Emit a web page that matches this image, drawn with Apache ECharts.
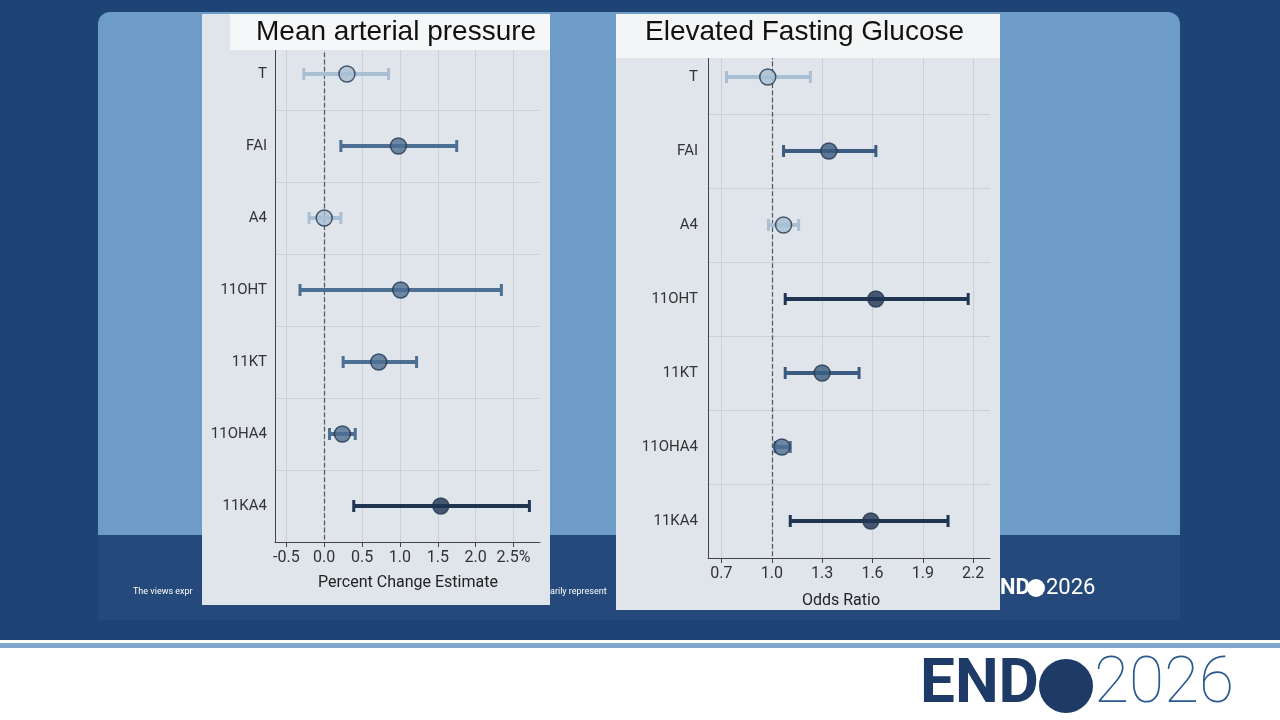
<!DOCTYPE html>
<html><head><meta charset="utf-8">
<script src="https://cdn.jsdelivr.net/npm/echarts@6/dist/echarts.min.js"></script>
<style>html,body{margin:0;padding:0;}#c{width:1280px;height:720px;}</style>
</head><body><div id="c"></div>
<script>
const categories = ['T','FAI','A4','11OHT','11KT','11OHA4','11KA4'];
const mapEst  = [0.30, 0.98, 0.00, 1.01, 0.72, 0.24, 1.54];
const mapLow  = [-0.27, 0.22, -0.20, -0.32, 0.25, 0.07, 0.39];
const mapHigh = [0.85, 1.75, 0.22, 2.34, 1.22, 0.41, 2.71];
const orEst  = [0.976, 1.34, 1.07, 1.62, 1.30, 1.06, 1.59];
const orLow  = [0.73, 1.07, 0.98, 1.08, 1.08, 1.02, 1.11];
const orHigh = [1.23, 1.62, 1.16, 2.17, 1.52, 1.11, 2.05];
const mapTicks = [-0.5, 0, 0.5, 1, 1.5, 2, 2.5];
const orTicks = [0.7, 1.0, 1.3, 1.6, 1.9, 2.2];
const colorsLeft = ['#a9bfd3','#4d6f92','#a9bfd3','#4d6f92','#4d6f92','#4d6f92','#1f3552'];
const colorsRight = ['#a9bfd3','#3b5c80','#a9bfd3','#1f3552','#3b5c80','#4d6f92','#1f3552'];

function ciSeries(idx, low, high, colors){
  return {type:'custom', xAxisIndex:idx, yAxisIndex:idx, z:3,
    data: categories.map((c,i)=>[low[i],high[i],i]),
    renderItem:(params, api)=>{
      const i = api.value(2);
      const a = api.coord([api.value(0), i]);
      const b = api.coord([api.value(1), i]);
      const st = {stroke:colors[i], lineWidth:4};
      return {type:'group', children:[
        {type:'line', shape:{x1:a[0],y1:a[1],x2:b[0],y2:b[1]}, style:st},
        {type:'line', shape:{x1:a[0],y1:a[1]-6,x2:a[0],y2:a[1]+6}, style:{stroke:colors[i],lineWidth:3}},
        {type:'line', shape:{x1:b[0],y1:b[1]-6,x2:b[0],y2:b[1]+6}, style:{stroke:colors[i],lineWidth:3}}
      ]};
    }};
}
function ptSeries(idx, est, colors, ref){
  return {type:'scatter', xAxisIndex:idx, yAxisIndex:idx, z:4, symbolSize:16,
    data: categories.map((c,i)=>({value:[est[i], c], itemStyle:{color:colors[i], borderColor:'#22364f', borderWidth:1.5}})),
    markLine:{silent:true, symbol:'none', label:{show:false}, z:2,
      lineStyle:{type:'dashed', color:'#555', width:1.2}, data:[{xAxis:ref}]}};
}
const axLabel = {color:'#333', fontSize:16, fontFamily:'Roboto'};
const opt = {
  animation:false,
  graphic:[
    {type:'rect', z:-20, shape:{x:0,y:0,width:1280,height:640}, style:{fill:'#1d4474'}},
    {type:'rect', z:-20, shape:{x:0,y:640,width:1280,height:80}, style:{fill:'#ffffff'}},
    {type:'rect', z:-20, shape:{x:0,y:643,width:1280,height:5}, style:{fill:'#7fa6cc'}},
    {type:'rect', z:-19, shape:{x:98,y:12,width:1082,height:608,r:12}, style:{fill:'#6d9cc7'}},
    {type:'rect', z:-18, shape:{x:98,y:535,width:1082,height:85}, style:{fill:'#24497a'}},
    {type:'text', z:-17, style:{x:133,y:592,text:'The views expr',fill:'#fff',fontSize:9,verticalAlign:'middle',fontFamily:'Roboto'}},
    {type:'text', z:-17, style:{x:550,y:592,text:'arily represent',fill:'#fff',fontSize:9,verticalAlign:'middle',fontFamily:'Roboto'}},
    {type:'text', z:-17, style:{x:1000,y:588,text:'ND',fill:'#fff',fontSize:22,fontWeight:'bold',verticalAlign:'middle',fontFamily:'Roboto'}},
    {type:'circle', z:-17, shape:{cx:1036,cy:588,r:9}, style:{fill:'#fff'}},
    {type:'text', z:-17, style:{x:1046,y:588,text:'2026',fill:'#fff',fontSize:22,verticalAlign:'middle',fontFamily:'Roboto'}},
    {type:'rect', z:-10, shape:{x:202,y:14,width:348,height:591}, style:{fill:'#dfe5ea'}},
    {type:'rect', z:10, shape:{x:230,y:14,width:320,height:36}, style:{fill:'#f6f7f8'}},
    {type:'text', z:11, style:{x:256,y:32,text:'Mean arterial pressure',fill:'#111',fontSize:28,verticalAlign:'middle',fontFamily:'Liberation Sans'}},
    {type:'text', z:-8, style:{x:408,y:583,text:'Percent Change Estimate',fill:'#222',fontSize:16,align:'center',verticalAlign:'middle',fontFamily:'Roboto'}},
    {type:'rect', z:-10, shape:{x:616,y:14,width:384,height:596}, style:{fill:'#dfe5ea'}},
    {type:'rect', z:10, shape:{x:616,y:14,width:384,height:44}, style:{fill:'#f4f5f6'}},
    {type:'text', z:11, style:{x:645,y:32,text:'Elevated Fasting Glucose',fill:'#111',fontSize:28,verticalAlign:'middle',fontFamily:'Liberation Sans'}},
    {type:'text', z:-8, style:{x:841,y:601,text:'Odds Ratio',fill:'#222',fontSize:16,align:'center',verticalAlign:'middle',fontFamily:'Roboto'}},
    {type:'text', z:-8, style:{x:920,y:686,text:'END',fill:'#1d3b66',fontSize:62,fontWeight:'bold',verticalAlign:'middle',fontFamily:'Roboto'}},
    {type:'circle', z:-8, shape:{cx:1066,cy:686,r:27}, style:{fill:'#1d3b66'}},
    {type:'text', z:-8, style:{x:1094,y:686,text:'2026',fill:'#2a5a8e',fontSize:64,fontWeight:'lighter',verticalAlign:'middle',fontFamily:'Roboto'}}
  ],
  grid:[
    {left:275, top:38, width:265, height:504},
    {left:708, top:40, width:282, height:518}
  ],
  xAxis:[
    {gridIndex:0, type:'value', min:-0.65, max:2.85,
     axisLine:{show:true,onZero:false,lineStyle:{color:'#444'}}, axisTick:{show:true,customValues:mapTicks,lineStyle:{color:'#444'}},
     axisLabel:Object.assign({customValues:mapTicks, formatter:v=>Math.abs(v-2.5)<1e-6?'2.5%':v.toFixed(1)},axLabel),
     splitLine:{show:true,lineStyle:{color:'#c9d0d6'}}},
    {gridIndex:1, type:'value', min:0.62, max:2.3,
     axisLine:{show:true,onZero:false,lineStyle:{color:'#444'}}, axisTick:{show:true,customValues:orTicks,lineStyle:{color:'#444'}},
     axisLabel:Object.assign({customValues:orTicks, formatter:v=>v.toFixed(1)},axLabel),
     splitLine:{show:true,lineStyle:{color:'#c9d0d6'}}}
  ],
  yAxis:[
    {gridIndex:0, type:'category', data:categories, inverse:true,
     axisLine:{show:true,onZero:false,lineStyle:{color:'#444'}}, axisTick:{show:false},
     axisLabel:Object.assign({margin:8},axLabel,{fontSize:15}),
     splitLine:{show:true,interval:0,lineStyle:{color:'#c9d0d6'}}},
    {gridIndex:1, type:'category', data:categories, inverse:true,
     axisLine:{show:true,onZero:false,lineStyle:{color:'#444'}}, axisTick:{show:false},
     axisLabel:Object.assign({margin:10},axLabel,{fontSize:15}),
     splitLine:{show:true,interval:0,lineStyle:{color:'#c9d0d6'}}}
  ],
  series:[
    ciSeries(0, mapLow, mapHigh, colorsLeft),
    ptSeries(0, mapEst, colorsLeft, 0),
    ciSeries(1, orLow, orHigh, colorsRight),
    ptSeries(1, orEst, colorsRight, 1.0)
  ]
};
const ch = echarts.init(document.getElementById('c'));
ch.setOption(opt);
</script></body></html>
